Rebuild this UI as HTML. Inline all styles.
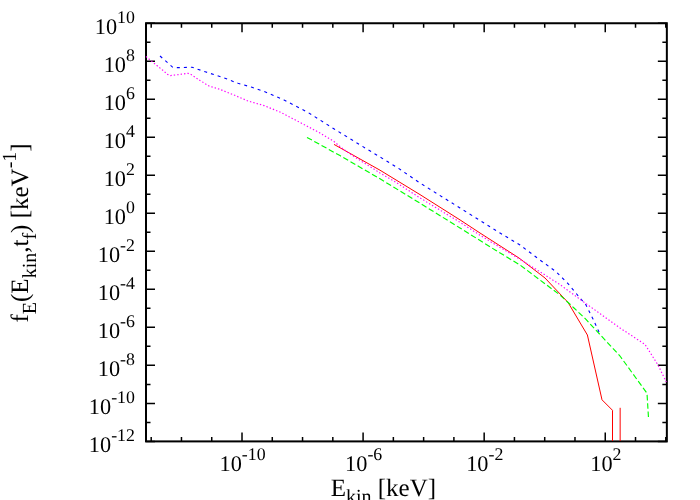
<!DOCTYPE html>
<html><head><meta charset="utf-8"><title>plot</title>
<style>html,body{margin:0;padding:0;background:#fff;}svg{display:block;}#w{will-change:transform;width:700px;height:500px;overflow:hidden;background:#fff;}text{font-family:"Liberation Serif",serif;fill:#000;text-rendering:geometricPrecision;}</style></head><body><div id="w">
<svg width="700" height="500" viewBox="0 0 700 500">
<rect x="0" y="0" width="700" height="500" fill="#fff"/>
<path d="M151.20 441.40v-4.5M151.20 23.25v4.5M181.47 441.40v-4.5M181.47 23.25v4.5M211.74 441.40v-4.5M211.74 23.25v4.5M242.01 441.40v-9.0M242.01 23.25v9.0M272.28 441.40v-4.5M272.28 23.25v4.5M302.55 441.40v-4.5M302.55 23.25v4.5M332.82 441.40v-4.5M332.82 23.25v4.5M363.09 441.40v-9.0M363.09 23.25v9.0M393.36 441.40v-4.5M393.36 23.25v4.5M423.63 441.40v-4.5M423.63 23.25v4.5M453.90 441.40v-4.5M453.90 23.25v4.5M484.17 441.40v-9.0M484.17 23.25v9.0M514.44 441.40v-4.5M514.44 23.25v4.5M544.71 441.40v-4.5M544.71 23.25v4.5M574.98 441.40v-4.5M574.98 23.25v4.5M605.25 441.40v-9.0M605.25 23.25v9.0M635.52 441.40v-4.5M635.52 23.25v4.5M665.79 441.40v-4.5M665.79 23.25v4.5M146.00 441.40h9.0M666.85 441.40h-9.0M146.00 422.39h4.5M666.85 422.39h-4.5M146.00 403.39h9.0M666.85 403.39h-9.0M146.00 384.38h4.5M666.85 384.38h-4.5M146.00 365.37h9.0M666.85 365.37h-9.0M146.00 346.37h4.5M666.85 346.37h-4.5M146.00 327.36h9.0M666.85 327.36h-9.0M146.00 308.35h4.5M666.85 308.35h-4.5M146.00 289.35h9.0M666.85 289.35h-9.0M146.00 270.34h4.5M666.85 270.34h-4.5M146.00 251.33h9.0M666.85 251.33h-9.0M146.00 232.32h4.5M666.85 232.32h-4.5M146.00 213.32h9.0M666.85 213.32h-9.0M146.00 194.31h4.5M666.85 194.31h-4.5M146.00 175.30h9.0M666.85 175.30h-9.0M146.00 156.30h4.5M666.85 156.30h-4.5M146.00 137.29h9.0M666.85 137.29h-9.0M146.00 118.28h4.5M666.85 118.28h-4.5M146.00 99.28h9.0M666.85 99.28h-9.0M146.00 80.27h4.5M666.85 80.27h-4.5M146.00 61.26h9.0M666.85 61.26h-9.0M146.00 42.26h4.5M666.85 42.26h-4.5M146.00 23.25h9.0M666.85 23.25h-9.0" stroke="#000" stroke-width="1.5" fill="none"/>
<rect x="146.00" y="23.25" width="520.85" height="418.15" fill="none" stroke="#000" stroke-width="2"/>
<polyline points="334.0,144.4 380.0,170.2 420.0,194.6 460.0,219.9 480.0,233.0 519.0,258.0 545.0,278.0 568.0,302.4 587.4,335.0 602.0,399.8 612.5,410.3 612.5,441.0" fill="none" stroke="#ff0000" stroke-width="1.0"/>
<line x1="620.15" y1="407.8" x2="620.15" y2="441" stroke="#ff0000" stroke-width="1"/>
<polyline points="307.0,137.4 340.0,155.6 380.0,178.8 420.0,203.2 460.0,228.0 496.0,250.5 520.0,265.0 540.0,280.0 560.0,295.0 574.0,308.0 586.0,319.4 598.0,332.4 620.0,356.0 647.0,393.3 648.5,418.0" fill="none" stroke="#00ff00" stroke-width="1.15" stroke-dasharray="5.6,2.7"/>
<polyline points="160.0,56.0 172.8,67.3 176.0,67.7 192.0,67.2 198.5,69.5 206.0,72.0 224.0,77.9 238.0,83.3 252.0,87.3 264.0,91.4 284.0,100.0 308.0,112.4 332.0,127.6 356.0,142.4 380.0,157.0 398.0,168.0 420.0,183.0 460.0,208.0 500.0,233.0 520.0,245.0 540.0,260.0 556.0,271.6 568.0,283.6 580.0,298.0 586.0,305.0 593.0,319.0 599.0,332.0" fill="none" stroke="#0000ff" stroke-width="1.1" stroke-dasharray="3.0,4.04"/>
<polyline points="146.0,56.5 155.0,64.0 162.5,70.0 167.5,74.4 170.5,75.6 177.5,74.7 188.0,73.3 191.0,74.5 200.0,80.5 209.0,86.0 220.0,89.4 234.0,95.0 248.0,101.0 264.0,105.6 280.0,112.0 300.0,122.4 320.0,133.0 334.0,141.5 340.0,146.5 348.0,152.5 354.0,156.5 360.0,160.3 369.0,166.0 372.0,167.8 380.0,173.0 396.0,182.3 420.0,197.9 460.0,222.3 480.0,235.2 500.0,247.4 520.0,259.3 540.0,271.8 560.0,284.6 580.0,299.3 600.0,313.6 620.0,328.0 645.0,344.4 658.0,365.0 666.3,382.0" fill="none" stroke="#ff00ff" stroke-width="1.15" stroke-dasharray="1.4,2.05"/>
<text x="134.9" y="451.8" text-anchor="end" font-size="22.3">10<tspan dy="-11.0" font-size="17.84">-12</tspan></text>
<text x="134.9" y="413.8" text-anchor="end" font-size="22.3">10<tspan dy="-11.0" font-size="17.84">-10</tspan></text>
<text x="134.9" y="375.8" text-anchor="end" font-size="22.3">10<tspan dy="-11.0" font-size="17.84">-8</tspan></text>
<text x="134.9" y="337.8" text-anchor="end" font-size="22.3">10<tspan dy="-11.0" font-size="17.84">-6</tspan></text>
<text x="134.9" y="299.7" text-anchor="end" font-size="22.3">10<tspan dy="-11.0" font-size="17.84">-4</tspan></text>
<text x="134.9" y="261.7" text-anchor="end" font-size="22.3">10<tspan dy="-11.0" font-size="17.84">-2</tspan></text>
<text x="134.9" y="223.7" text-anchor="end" font-size="22.3">10<tspan dy="-11.0" font-size="17.84">0</tspan></text>
<text x="134.9" y="185.7" text-anchor="end" font-size="22.3">10<tspan dy="-11.0" font-size="17.84">2</tspan></text>
<text x="134.9" y="147.7" text-anchor="end" font-size="22.3">10<tspan dy="-11.0" font-size="17.84">4</tspan></text>
<text x="134.9" y="109.7" text-anchor="end" font-size="22.3">10<tspan dy="-11.0" font-size="17.84">6</tspan></text>
<text x="134.9" y="71.7" text-anchor="end" font-size="22.3">10<tspan dy="-11.0" font-size="17.84">8</tspan></text>
<text x="134.9" y="33.6" text-anchor="end" font-size="22.3">10<tspan dy="-11.0" font-size="17.84">10</tspan></text>
<text x="242.6" y="470.8" text-anchor="middle" font-size="22.3">10<tspan dy="-11.0" font-size="17.84">-10</tspan></text>
<text x="363.7" y="470.8" text-anchor="middle" font-size="22.3">10<tspan dy="-11.0" font-size="17.84">-6</tspan></text>
<text x="484.8" y="470.8" text-anchor="middle" font-size="22.3">10<tspan dy="-11.0" font-size="17.84">-2</tspan></text>
<text x="605.9" y="470.8" text-anchor="middle" font-size="22.3">10<tspan dy="-11.0" font-size="17.84">2</tspan></text>
<text x="330.7" y="495.5" font-size="25.0">E<tspan dy="7.50" font-size="20.0">kin</tspan><tspan dy="-7.50" font-size="25.0"> [keV]</tspan></text>
<text transform="translate(28.2,322.5) rotate(-90)" font-size="25.0">f<tspan dy="7.50" font-size="20.0">E</tspan><tspan dy="-7.50" font-size="25.0">(E</tspan><tspan dy="7.50" font-size="20.0">kin</tspan><tspan dy="-7.50" font-size="25.0">,t</tspan><tspan dy="7.50" font-size="20.0">f</tspan><tspan dy="-7.50" font-size="25.0">) [keV</tspan><tspan dy="-12.50" font-size="20.0">-1</tspan><tspan dy="12.50" font-size="25.0">]</tspan></text>
</svg></div></body></html>
